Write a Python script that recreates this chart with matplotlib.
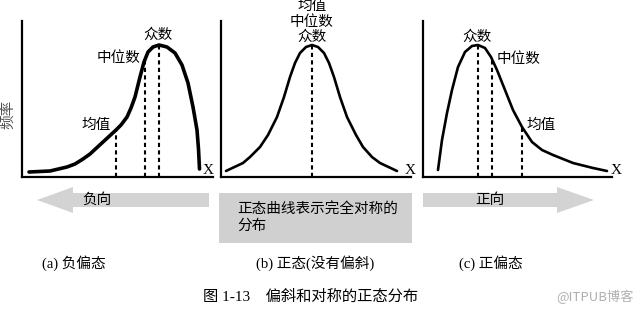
# 偏斜和对称的正态分布 (three panels + arrows + caption)
import numpy as np
import matplotlib.pyplot as plt

plt.rcParams['font.family'] = ['Liberation Serif', 'Noto Sans CJK SC', 'DejaVu Sans']

W, H = 641, 310

# curves (x along the axis, frequency up), panel units
neg_x = [7, 28, 45, 53, 61, 68, 81, 94, 99, 105, 109, 113, 118, 122, 126, 131, 137,
         145, 153, 160, 166, 171, 175, 176.5, 177.5]
neg_y = [5, 6, 10, 13, 18, 23, 35, 47, 52, 60, 69, 80, 100, 115, 125, 130, 132,
         130, 124, 112, 94, 70, 47, 28, 8]
sym_x = [5, 22, 29, 39, 47, 56, 63, 69, 74, 79, 85, 91, 97, 103, 108, 113, 119, 126, 135, 142, 151, 159, 176]
sym_y = [6, 14, 20, 30, 42, 60, 80, 100, 114, 124, 130, 132, 130, 124, 114, 100, 80, 60, 42, 30, 20, 14, 6]
pos_x = [15, 19, 24, 29, 35, 42, 49, 55, 62, 68, 74, 82, 90, 99, 109, 119, 130, 150, 170, 184]
pos_y = [7, 37, 64, 87, 110, 125, 131, 132, 129, 120, 107, 87, 67, 50, 35, 27, 22, 14, 9, 6]

# positions of mean / median / mode on each curve
neg_marks = {'均值': (94, 47), '中位数': (123, 117), '众数': (137, 132)}
sym_marks = {'众数': (91, 132)}
pos_marks = {'众数': (55, 132), '中位数': (69, 119), '均值': (99, 50)}

panel_titles = ['(a) 负偏态', '(b) 正态(没有偏斜)', '(c) 正偏态']
arrow_labels = ['负向', '正向']
box_text = '正态曲线表示完全对称的\n分布'
caption = '图 1-13    偏斜和对称的正态分布'

fig = plt.figure(figsize=(W / 100, H / 100), dpi=100)

# overlay in pixel units for arrows, box and captions
bg = fig.add_axes([0, 0, 1, 1])
bg.set_xlim(0, W)
bg.set_ylim(H, 0)
bg.axis('off')

grey = '#d3d3d3'
bg.arrow(209, 200, -172, 0, width=14, head_width=26, head_length=36,
         length_includes_head=True, color=grey, lw=0)
bg.arrow(423, 200, 171, 0, width=14, head_width=26, head_length=37,
         length_includes_head=True, color=grey, lw=0)
bg.add_patch(plt.Rectangle((219, 193), 193, 50, color='#d0d0d0', lw=0))
bg.text(97, 200, arrow_labels[0], fontsize=10.5, ha='center', va='center')
bg.text(490, 200, arrow_labels[1], fontsize=10.5, ha='center', va='center')
bg.text(237, 218, box_text, fontsize=10.5, ha='left', va='center', linespacing=1.25)
for cx, t in zip([74, 315, 491], panel_titles):
    bg.text(cx, 263, t, fontsize=10.5, ha='center', va='center')
bg.text(311, 297, caption, fontsize=11, ha='center', va='center')
bg.text(595, 297, '@ITPUB博客', fontsize=9.5, ha='center', va='center',
        color='#b0b0b0', family=['Noto Sans CJK SC', 'DejaVu Sans'])
bg.text(8, 114, '频率', fontsize=10.5, rotation=90, ha='center', va='center', color='#505050')


def panel(left, right, xs, ys, marks, lw, x_pos):
    top, bottom = 21, 177
    ax = fig.add_axes([left / W, (H - bottom) / H, (right - left) / W, (bottom - top) / H])
    ax.patch.set_alpha(0)
    ax.set_xlim(0, right - left)
    ax.set_ylim(0, bottom - top)
    for s in ['top', 'right']:
        ax.spines[s].set_visible(False)
    for s in ['left', 'bottom']:
        ax.spines[s].set_linewidth(1.6)
    ax.set_xticks([])
    ax.set_yticks([])
    ax.plot(xs, ys, color='black', lw=lw, solid_capstyle='round',
            solid_joinstyle='round', clip_on=False)
    for name, (mx, my) in marks.items():
        ax.plot([mx, mx], [0, my], color='black', lw=1.5, linestyle=(0, (2, 1.6)))
    ax.text(x_pos, 7, 'X', fontsize=11, ha='center', va='center')
    return ax


ax1 = panel(22, 213, neg_x, neg_y, neg_marks, 2.6, 186)
ax1.text(136, 142, '众数', fontsize=10.5, ha='center', va='center')
ax1.text(97, 119, '中位数', fontsize=10.5, ha='center', va='center')
ax1.text(74, 52, '均值', fontsize=10.5, ha='center', va='center')

ax2 = panel(221, 411, sym_x, sym_y, sym_marks, 1.9, 189)
ax2.text(91, 171, '均值', fontsize=10.5, ha='center', va='center')
ax2.text(91, 155, '中位数', fontsize=10.5, ha='center', va='center')
ax2.text(91, 140, '众数', fontsize=10.5, ha='center', va='center')

ax3 = panel(423, 612, pos_x, pos_y, pos_marks, 1.9, 193)
ax3.text(54, 140, '众数', fontsize=10.5, ha='center', va='center')
ax3.text(96, 118, '中位数', fontsize=10.5, ha='center', va='center')
ax3.text(118, 52, '均值', fontsize=10.5, ha='center', va='center')

plt.savefig('out.png', dpi=100)
